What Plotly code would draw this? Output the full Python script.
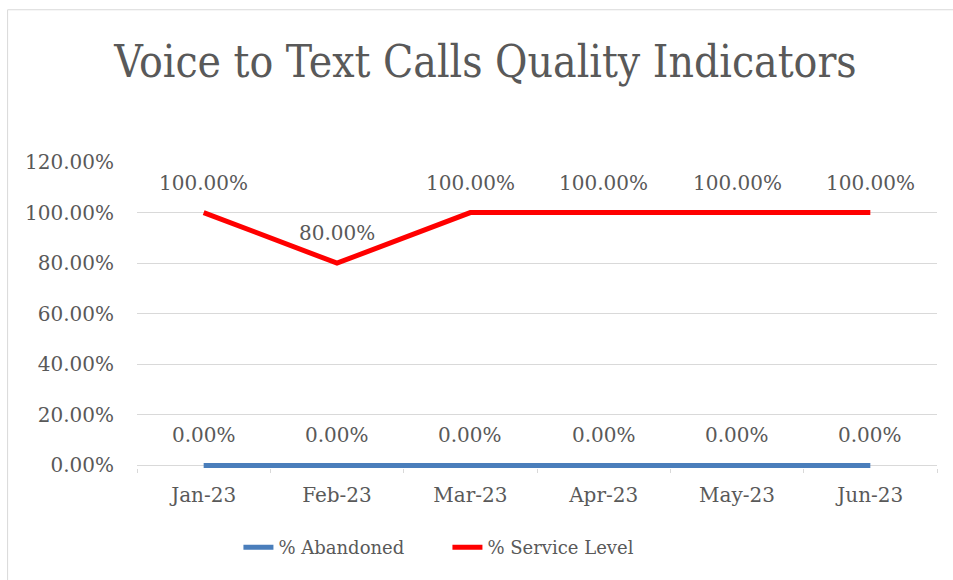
import plotly.graph_objects as go

months = ["Jan-23", "Feb-23", "Mar-23", "Apr-23", "May-23", "Jun-23"]
abandoned = [0.0, 0.0, 0.0, 0.0, 0.0, 0.0]
service_level = [1.0, 0.8, 1.0, 1.0, 1.0, 1.0]
y_ticks = [0, 0.2, 0.4, 0.6, 0.8, 1.0, 1.2]

FONT = "DejaVu Serif"
TFONT = "DejaVu Serif Condensed, Liberation Serif"
TXT = "#595959"

fig = go.Figure()
fig.add_trace(go.Scatter(
    x=months, y=abandoned, name="% Abandoned", mode="lines",
    line=dict(color="#4a7ebb", width=5),
))
fig.add_trace(go.Scatter(
    x=months, y=service_level, name="% Service Level", mode="lines",
    line=dict(color="#ff0000", width=5),
))

annotations = []
for series in (abandoned, service_level):
    for m, v in zip(months, series):
        annotations.append(dict(
            x=m, y=v, xref="x", yref="y", text=f"{v*100:.2f}%", showarrow=False,
            yshift=30, font=dict(family=FONT, size=20, color=TXT),
            xanchor="center", yanchor="middle"))

W, H = 953, 580
L, R, T = 136.5, 937, 162
Y0 = 465  # pixel of 0%
per = (Y0 - T) / 1.2
ymin = -0.01
B = Y0 + (-ymin) * per
pw, ph = R - L, B - T

fig.update_layout(
    width=W, height=H,
    margin=dict(l=L, r=W - R, t=T, b=H - B, pad=0),
    paper_bgcolor="white", plot_bgcolor="white",
    font=dict(family=FONT, color=TXT, size=20),
    title=dict(text="Voice to Text Calls Quality Indicators", x=485.5 / W, xanchor="center",
               y=1 - 62 / H, yanchor="middle",
               font=dict(family=TFONT, size=44, color=TXT)),
    legend=dict(orientation="h", x=(238 - L) / pw, xanchor="left", y=(B - 547) / ph, yanchor="middle",
                entrywidth=164, entrywidthmode="pixels",
                font=dict(family=FONT, size=18, color=TXT)),
    showlegend=True,
    annotations=annotations,
    shapes=[dict(type="rect", xref="paper", yref="paper",
                 x0=(7 - L) / pw, x1=(960 - L) / pw, y0=(B - 600) / ph, y1=(B - 10) / ph,
                 line=dict(color="#d9d9d9", width=1), fillcolor="rgba(0,0,0,0)", layer="below")],
)
fig.update_xaxes(
    range=[-0.5, 5.5],
    showgrid=False, showline=False,
    ticks="outside", tickson="boundaries", tickcolor="#d9d9d9", ticklen=4,
    tickfont=dict(family=FONT, size=20, color=TXT), ticklabelstandoff=13,
)
fig.update_yaxes(
    range=[ymin, 1.2], tickvals=y_ticks, tickformat=".2%",
    showgrid=True, gridcolor="#d9d9d9", gridwidth=1,
    zeroline=True, zerolinecolor="#d9d9d9", zerolinewidth=1,
    showline=False, ticks="", tickfont=dict(family=FONT, size=20, color=TXT),
    ticklabelstandoff=22,
)
fig.write_html("out.html", config={"displayModeBar": False},
               post_script="document.body.style.margin='0';")
